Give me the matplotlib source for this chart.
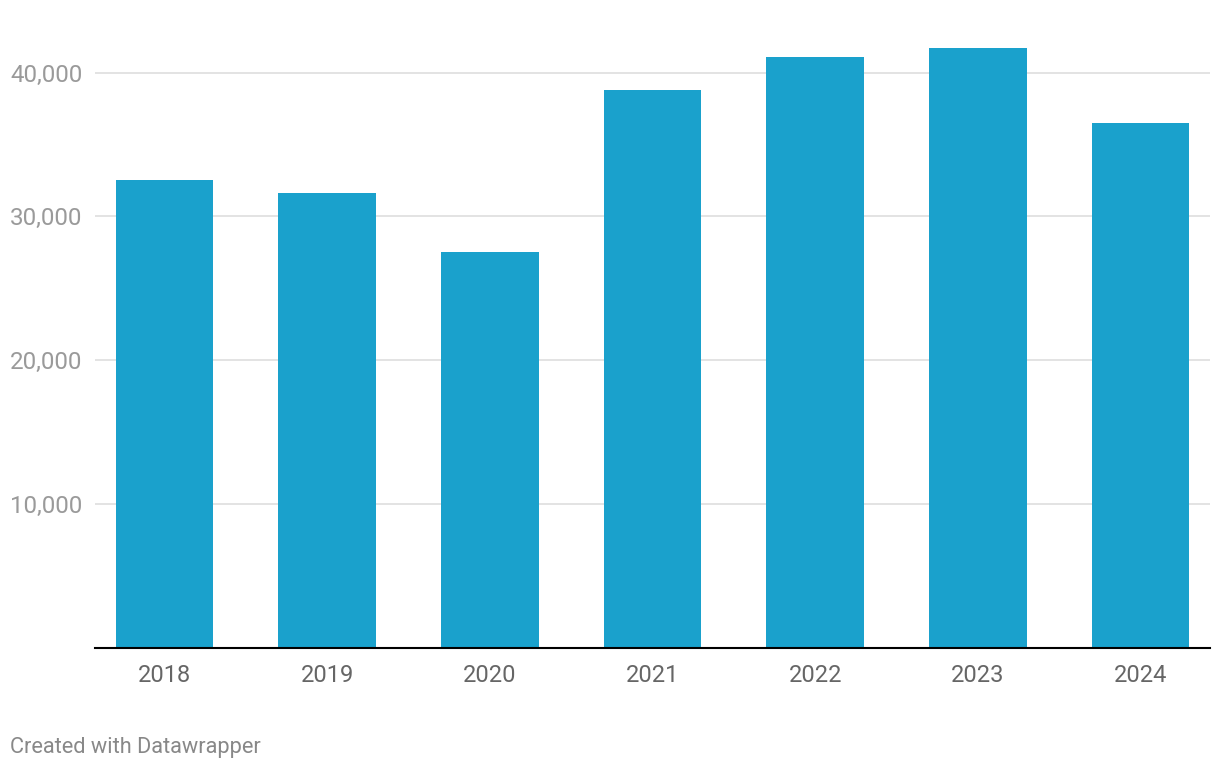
import matplotlib.pyplot as plt
import numpy as np
from matplotlib.ticker import FuncFormatter

plt.rcParams['font.family'] = ['Roboto', 'DejaVu Sans']

# data
years = ['2018', '2019', '2020', '2021', '2022', '2023', '2024']
values = [32500, 31600, 27500, 38800, 41100, 41700, 36500]
yticks = [10000, 20000, 30000, 40000]

fig = plt.figure(figsize=(12.2, 7.7), dpi=100)
ax = fig.add_axes([95/1220, 1 - 647.5/770, (1210 - 95)/1220, (647.5 - 29.6)/770])

x = np.arange(len(years))
ax.bar(x, values, width=0.6, color='#1aa1cc', zorder=2)

ax.set_xlim(-0.427, len(years) - 1 + 0.427)
ax.set_ylim(0, 43000)
ax.set_yticks(yticks)
ax.yaxis.set_major_formatter(FuncFormatter(lambda v, p: '{:,.0f}'.format(v)))
ax.set_xticks(x)
ax.set_xticklabels(years)

ax.grid(axis='y', color='#e3e3e3', linewidth=1.4, zorder=0)
for s in ['top', 'right', 'left']:
    ax.spines[s].set_visible(False)
ax.spines['bottom'].set_color('#000000')
ax.spines['bottom'].set_linewidth(1.5)
ax.spines['bottom'].set_zorder(3)

ax.tick_params(axis='y', length=0, pad=9, labelsize=17.4, labelcolor='#9a9a9a')
ax.tick_params(axis='x', length=0, pad=12, labelsize=17, labelcolor='#666666')

fig.text(10/1220, 1 - 748/770, 'Created with Datawrapper', fontsize=15.7,
         color='#888888', ha='left', va='center')

plt.savefig('out.png', dpi=100)
